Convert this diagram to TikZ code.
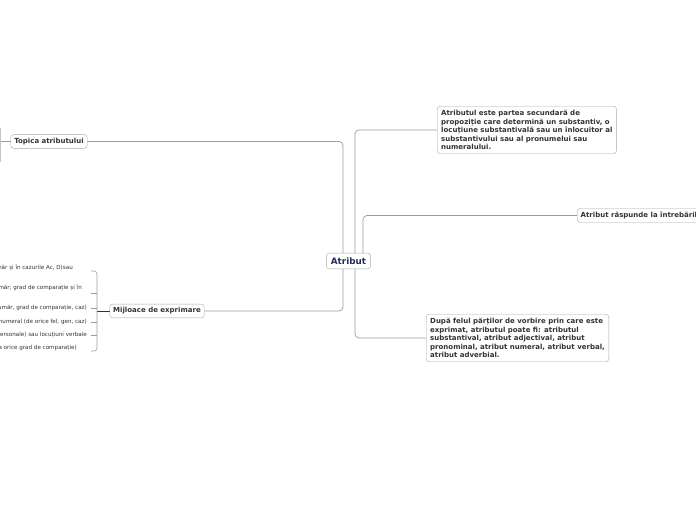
\documentclass[tikz,border=0pt]{standalone}
\usepackage{fontspec}
\setmainfont{DejaVu Sans}
\usepackage{tikz}
\usepackage{xcolor}
\usetikzlibrary{positioning,calc}

\definecolor{atrNavy}{HTML}{1F2D5C}
\definecolor{boxGray}{HTML}{A8A8A8}
\definecolor{lineGray}{HTML}{9C9C9C}
\definecolor{txtGray}{HTML}{333333}

\tikzset{
    topic/.style={draw=boxGray, rounded corners=3pt, fill=white, text=txtGray, inner sep=3.5pt,
        font=\fontsize{7}{8}\selectfont\bfseries},
    textbox/.style={topic, align=left, inner sep=4pt,
        font=\fontsize{7}{8.5}\selectfont\bfseries},
    central/.style={draw=boxGray, rounded corners=3pt, fill=white, text=atrNavy, inner sep=4.5pt,
        font=\fontsize{8.8}{10}\selectfont\bfseries},
    leaf/.style={anchor=east, text=txtGray, inner sep=1pt, font=\fontsize{5.6}{6.5}\selectfont},
    branch/.style={draw=lineGray, line width=0.7pt, rounded corners=4pt}
}

\begin{document}
\begin{tikzpicture}[x=1pt, y=-1pt]
    \useasboundingbox (0,0) rectangle (696,520);
    \clip (0,0) rectangle (696,520);
    \fill[white] (0,0) rectangle (696,520);

    % Central node
    \node[central] (atr) at (348.5,261) {Atribut};

    % Right side
    \node[textbox, anchor=north west] (def) at (437,106) {Atributul este partea secundară de\\
        propoziție care determină un substantiv, o\\
        locuțiune substantivală sau un înlocuitor al\\
        substantivului sau al pronumelui sau\\
        numeralului.};
    \node[topic, anchor=west] (intr) at (577,215.5) {Atribut răspunde la întrebările};
    \node[textbox, anchor=north west] (fel) at (426,314) {După felul părților de vorbire prin care este\\
        exprimat, atributul poate fi: atributul\\
        substantival, atribut adjectival, atribut\\
        pronominal, atribut numeral, atribut verbal,\\
        atribut adverbial.};

    % Left side
    \node[topic] (topica) at (49,141.5) {Topica atributului};
    \node[topic] (mij) at (157,311) {Mijloace de exprimare};

    % Connectors
    \draw[branch] ([xshift=-5.5pt]atr.north) |- (topica.east);
    \draw[branch] ([xshift=-5.5pt]atr.south) |- (mij.east);
    \draw[branch] ([xshift=6.5pt]atr.north) |- (def.west);
    \draw[branch] ([xshift=14.5pt]atr.north) |- (intr.west);
    \draw[branch] ([xshift=6.5pt]atr.south) |- (fel.west);

    % Topica children (off the page)
    \coordinate (topL) at (0.6,141.5);
    \draw[branch] (topica.west) -- (topL);
    \draw[draw=lineGray!60, line width=0.6pt] (0.6,128) -- (0.6,162);

    % Mijloace children
    \coordinate (brk) at (97,311);
    \draw[line width=0.8pt, txtGray] (mij.west) -- (brk);
    \draw[branch, line width=0.6pt, rounded corners=3pt] (91,271) -| (97,351) -- (91,351);
    \foreach \y in {293,308,322,335} {
        \draw[draw=lineGray, line width=0.6pt] (91,\y) -- (97,\y);
    }

    \node[leaf] (m1) at (74,268) {număr și în cazurile Ac, D)sau};
    \node[leaf] (m2) at (83,288) {număr; grad de comparație și în};
    \node[leaf] (m3) at (88,308) {număr, grad de comparație, caz)};
    \node[leaf] (m4) at (88,322) {numeral (de orice fel, gen, caz)};
    \node[leaf] (m5) at (88,335) {personale) sau locuțiuni verbale};
    \node[leaf] (m6) at (78,348) {la orice grad de comparație)};
\end{tikzpicture}
\end{document}
